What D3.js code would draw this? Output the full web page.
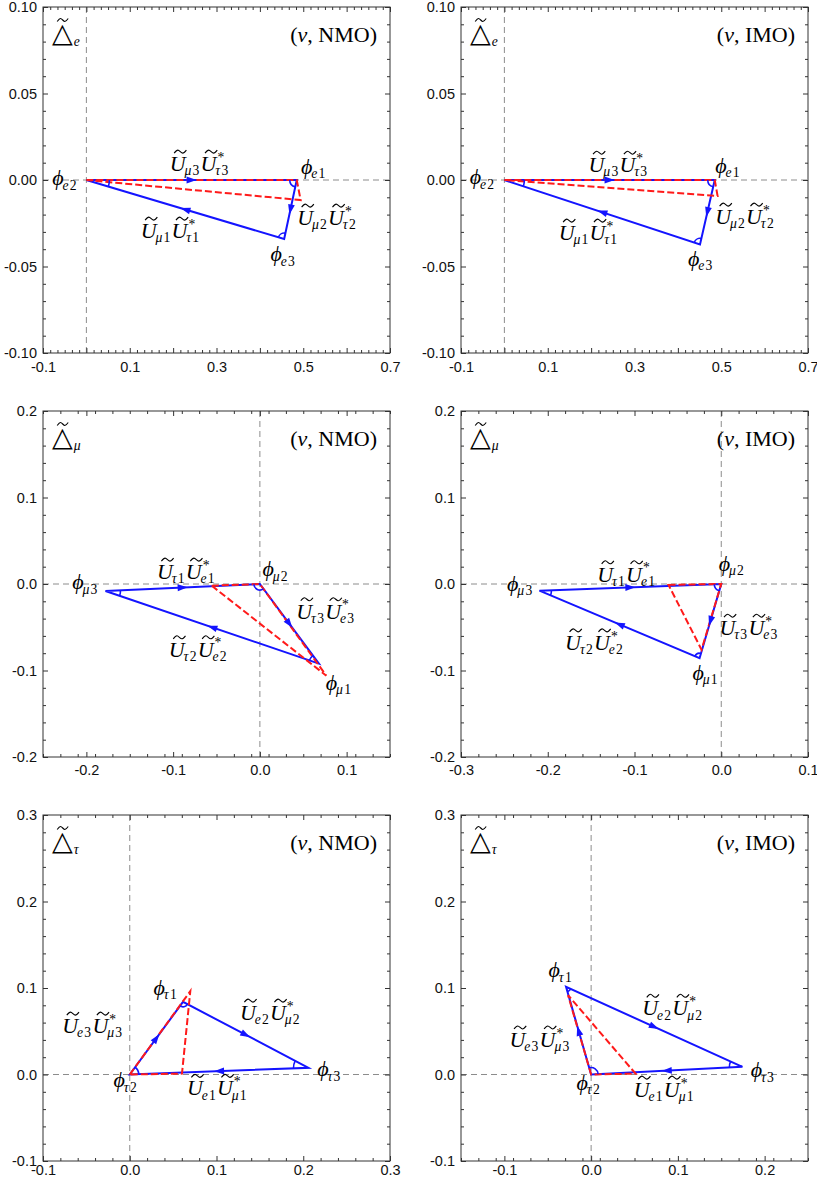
<!DOCTYPE html>
<html>
<head>
<meta charset="utf-8">
<script src="https://cdn.jsdelivr.net/npm/d3@7"></script>
<style>
  body { margin: 0; background: #fff; }
</style>
</head>
<body>
<div id="viz"></div>
<script>
  // ---- data (x = Re, y = Im) ----
  // blue: vertices of the unitarity triangle in arrow order; red: dashed comparison triangle
  var blueE_NMO = [[0, 0], [0.485, 0], [0.456, -0.0341]];
  var redE_NMO = [[0, 0], [0.485, 0], [0.494, -0.0116]];
  var blueE_IMO = [[0, 0], [0.485, 0], [0.451, -0.0372]];
  var redE_IMO = [[0, 0], [0.485, 0], [0.4915, -0.0092]];
  var blueMu_NMO = [[-0.178, -0.0081], [0, 0], [0.068, -0.092]];
  var redMu_NMO = [[-0.0555, -0.002], [0, 0], [0.0766, -0.106]];
  var blueMu_IMO = [[-0.2096, -0.0077], [0, 0], [-0.025, -0.0858]];
  var redMu_IMO = [[-0.0608, -0.001], [0, 0], [-0.0227, -0.076]];
  var blueTau_NMO = [[0, 0], [0.0614, 0.084], [0.206, 0.0077]];
  var redTau_NMO = [[0, 0], [0.0698, 0.0963], [0.0602, 0.001]];
  var blueTau_IMO = [[0, 0], [-0.0289, 0.1013], [0.1744, 0.0089]];
  var redTau_IMO = [[0, 0], [-0.0266, 0.0917], [0.0512, 0.001]];

  var flavours = ["e", "μ", "τ"];
  var orderings = ["NMO", "IMO"];

  // names of the blue vertices (same order as above) and of the edges v0->v1, v1->v2, v2->v0
  var vertexNamesE = ["e2", "e1", "e3"];
  var vertexNamesMu = ["μ3", "μ2", "μ1"];
  var vertexNamesTau = ["τ2", "τ1", "τ3"];
  var edgeSubsE = [["μ3", "τ3"], ["μ2", "τ2"], ["μ1", "τ1"]];
  var edgeSubsMu = [["τ1", "e1"], ["τ3", "e3"], ["τ2", "e2"]];
  var edgeSubsTau = [["e3", "μ3"], ["e2", "μ2"], ["e1", "μ1"]];

  // axes
  var xDomains = [[-0.1, 0.7], [-0.1, 0.7], [-0.25, 0.15], [-0.3, 0.1], [-0.1, 0.3], [-0.15, 0.25]];
  var yDomains = [[-0.1, 0.1], [-0.1, 0.1], [-0.2, 0.2], [-0.2, 0.2], [-0.1, 0.3], [-0.1, 0.3]];
  var xTickLabels = [[-0.1, 0.1, 0.3, 0.5, 0.7], [-0.1, 0.1, 0.3, 0.5, 0.7], [-0.2, -0.1, 0.0, 0.1],
                     [-0.3, -0.2, -0.1, 0.0, 0.1], [-0.1, 0.0, 0.1, 0.2, 0.3], [-0.1, 0.0, 0.1, 0.2]];
  var yTickLabels = [[-0.1, -0.05, 0, 0.05, 0.1], [-0.1, -0.05, 0, 0.05, 0.1], [-0.2, -0.1, 0.0, 0.1, 0.2],
                     [-0.2, -0.1, 0.0, 0.1, 0.2], [-0.1, 0.0, 0.1, 0.2, 0.3], [-0.1, 0.0, 0.1, 0.2, 0.3]];
  var xMajorStep = [0.1, 0.1, 0.1, 0.1, 0.1, 0.1];
  var xMinorStep = [0.1 / 6, 0.1 / 6, 0.02, 0.02, 0.02, 0.02];
  var yMajorStep = [0.05, 0.05, 0.1, 0.1, 0.1, 0.1];
  var yMinorStep = [0.01, 0.01, 0.02, 0.02, 0.02, 0.02];
  var yFormat = [".2f", ".2f", ".1f", ".1f", ".1f", ".1f"];

  // ---- layout ----
  var W = 347, H = 346;
  var colLeft = [43, 461];
  var rowTop = [7, 411, 815];
  var rowTickPad = [9, 8, 4];
  var blue = "#1414ff", red = "#ff1a1a";
  var serif = "'Liberation Serif', 'DejaVu Serif', serif";
  var mathSize = 22;

  // label anchors in data coords: [x, y, text-anchor]
  var vertexLabelPos = [
    [[-0.02, -0.003, "end"], [0.495, 0.0035, "start"], [0.454, -0.047, "middle"]],
    [[-0.021, -0.0025, "end"], [0.486, 0.004, "start"], [0.453, -0.0497, "middle"]],
    [[-0.186, -0.006, "end"], [0.003, 0.009, "start"], [0.076, -0.122, "start"]],
    [[-0.2165, -0.008, "end"], [-0.003, 0.015, "start"], [-0.018, -0.111, "middle"]],
    [[-0.0046, -0.015, "middle"], [0.0415, 0.092, "middle"], [0.216, -0.002, "start"]],
    [[-0.0027, -0.018, "middle"], [-0.035, 0.1125, "middle"], [0.184, -0.003, "start"]]
  ];
  var edgeLabelPos = [
    [[0.261, 0.0052, "middle"], [0.486, -0.026, "start"], [0.194, -0.0335, "middle"]],
    [[0.263, 0.0046, "middle"], [0.486, -0.0254, "start"], [0.194, -0.0347, "middle"]],
    [[-0.0847, 0.0058, "middle"], [0.042, -0.040, "start"], [-0.071, -0.084, "middle"]],
    [[-0.109, 0.0027, "middle"], [-0.002, -0.059, "start"], [-0.146, -0.076, "middle"]],
    [[-0.0075, 0.048, "end"], [0.127, 0.063, "start"], [0.101, -0.024, "middle"]],
    [[-0.0238, 0.032, "end"], [0.059, 0.0686, "start"], [0.0843, -0.026, "middle"]]
  ];
  // radius (px) of the angle arc at each blue vertex
  var arcRadius = [[23, 7, 6], [20, 7, 6], [15, 6, 10], [12, 7, 5], [9, 5, 15], [7, 5, 13]];

  var panels = [
    { blue: blueE_NMO, red: redE_NMO, names: vertexNamesE, edges: edgeSubsE, fl: 0, ord: 0 },
    { blue: blueE_IMO, red: redE_IMO, names: vertexNamesE, edges: edgeSubsE, fl: 0, ord: 1 },
    { blue: blueMu_NMO, red: redMu_NMO, names: vertexNamesMu, edges: edgeSubsMu, fl: 1, ord: 0 },
    { blue: blueMu_IMO, red: redMu_IMO, names: vertexNamesMu, edges: edgeSubsMu, fl: 1, ord: 1 },
    { blue: blueTau_NMO, red: redTau_NMO, names: vertexNamesTau, edges: edgeSubsTau, fl: 2, ord: 0 },
    { blue: blueTau_IMO, red: redTau_IMO, names: vertexNamesTau, edges: edgeSubsTau, fl: 2, ord: 1 }
  ];

  var svg = d3.select("#viz").append("svg").attr("width", 817).attr("height", 1179);

  var fix = function(s) { return s.replace("−", "-"); };

  var drawTilde = function(grp, x0, x1, ty) {
    var a = 1.5, w = x1 - x0;
    var pts = [[x0, ty + a], [x0 + 0.3 * w, ty - a], [x0 + 0.7 * w, ty + a], [x1, ty - a]];
    grp.append("path").attr("d", d3.line().curve(d3.curveMonotoneX)(pts))
      .attr("fill", "none").attr("stroke", "#000").attr("stroke-width", 1.1);
  };

  // sub/superscript: digits and * upright, letters italic
  var addScript = function(grp, x, y, str, fs) {
    var t = grp.append("text").attr("x", x).attr("y", y)
      .style("font-family", serif).style("font-size", fs + "px").style("letter-spacing", "1.2px");
    str.split("").forEach(function(ch) {
      t.append("tspan").style("font-style", /[0-9*]/.test(ch) ? "normal" : "italic").text(ch);
    });
    return t.node().getComputedTextLength();
  };

  var drawMath = function(g, px, py, tokens, anchor, fs) {
    var grp = g.append("g");
    var cx = 0;
    tokens.forEach(function(t) {
      var base = grp.append("text").attr("x", cx).attr("y", 0)
        .style("font-family", t.font || serif)
        .style("font-size", (t.size || fs) + "px")
        .style("font-style", t.upright ? "normal" : "italic")
        .text(t.b);
      var w = base.node().getComputedTextLength();
      if (t.tilde) {
        if (t.upright) {
          drawTilde(grp, cx + w * 0.25, cx + w * 0.78, -(t.tildeY || 0.9) * fs);
        } else {
          drawTilde(grp, cx + w * 0.28, cx + w * 1.05, -(t.tildeY || 0.88) * fs);
        }
      }
      cx += w;
      var kern = t.upright ? -1 : 0.05 * fs;
      var sw = 0;
      if (t.sup) {
        sw = Math.max(sw, addScript(grp, cx + 1, -0.42 * fs, t.sup, 0.62 * fs) + 1 + kern);
      }
      if (t.sub) {
        sw = Math.max(sw, addScript(grp, cx - kern, 0.2 * fs, t.sub, 0.62 * fs));
      }
      cx += sw - kern;
    });
    var shift = anchor === "end" ? -cx : anchor === "middle" ? -cx / 2 : 0;
    grp.attr("transform", "translate(" + (px + shift) + "," + py + ")");
  };

  var minorTicks = function(dom, step, majStep) {
    var out = [], v;
    var n = Math.round((dom[1] - dom[0]) / step);
    for (var k = 0; k <= n; k++) {
      v = dom[0] + k * step;
      var r = v / majStep;
      if (Math.abs(r - Math.round(r)) > 1e-6) out.push(v);
    }
    return out;
  };
  var majorTicks = function(dom, step) {
    var out = [];
    var k0 = Math.ceil(dom[0] / step - 1e-9), k1 = Math.floor(dom[1] / step + 1e-9);
    for (var k = k0; k <= k1; k++) out.push(k * step);
    return out;
  };

  var drawPanel = function(p, i) {
    var row = Math.floor(i / 2);
    var g = svg.append("g")
      .attr("transform", "translate(" + colLeft[i % 2] + "," + rowTop[row] + ")");
    var x = d3.scaleLinear().domain(xDomains[i]).range([0, W]);
    var y = d3.scaleLinear().domain(yDomains[i]).range([H, 0]);

    // dashed zero lines
    g.append("line").attr("x1", x(0)).attr("x2", x(0)).attr("y1", 0).attr("y2", H)
      .attr("stroke", "#8c8c8c").attr("stroke-width", 1).attr("stroke-dasharray", "6,4");
    g.append("line").attr("x1", 0).attr("x2", W).attr("y1", y(0)).attr("y2", y(0))
      .attr("stroke", "#8c8c8c").attr("stroke-width", 1).attr("stroke-dasharray", "6,4");

    // ticks (inward on all four sides)
    var xMaj = majorTicks(xDomains[i], xMajorStep[i]);
    var yMaj = majorTicks(yDomains[i], yMajorStep[i]);
    var xMin = minorTicks(xDomains[i], xMinorStep[i], xMajorStep[i]);
    var yMin = minorTicks(yDomains[i], yMinorStep[i], yMajorStep[i]);
    var xf = d3.format(".1f"), yf = d3.format(yFormat[i]);
    var xLab = xTickLabels[i], yLab = yTickLabels[i];
    var isLab = function(arr, v) {
      return arr.some(function(a) { return Math.abs(a - v) < 1e-9; });
    };

    var axes = [
      g.append("g").attr("transform", "translate(0," + H + ")")
        .call(d3.axisBottom(x).tickValues(xMaj).tickSize(-5).tickPadding(rowTickPad[row])
          .tickFormat(function(v) { return isLab(xLab, v) ? fix(xf(v)) : ""; })),
      g.append("g").attr("transform", "translate(0," + H + ")")
        .call(d3.axisBottom(x).tickValues(xMin).tickSize(-3).tickFormat("")),
      g.append("g").call(d3.axisTop(x).tickValues(xMaj).tickSize(-5).tickFormat("")),
      g.append("g").call(d3.axisTop(x).tickValues(xMin).tickSize(-3).tickFormat("")),
      g.append("g")
        .call(d3.axisLeft(y).tickValues(yMaj).tickSize(-5).tickPadding(6)
          .tickFormat(function(v) { return isLab(yLab, v) ? fix(yf(v)) : ""; })),
      g.append("g").call(d3.axisLeft(y).tickValues(yMin).tickSize(-3).tickFormat("")),
      g.append("g").attr("transform", "translate(" + W + ",0)")
        .call(d3.axisRight(y).tickValues(yMaj).tickSize(-5).tickFormat("")),
      g.append("g").attr("transform", "translate(" + W + ",0)")
        .call(d3.axisRight(y).tickValues(yMin).tickSize(-3).tickFormat(""))
    ];
    axes.forEach(function(a) {
      a.select(".domain").remove();
      a.selectAll("line").attr("stroke", "#333");
      a.selectAll("text").style("font-family", "'Liberation Sans', Arial, sans-serif")
        .style("font-size", "14.5px").attr("fill", "#111");
    });

    g.append("rect").attr("width", W).attr("height", H)
      .attr("fill", "none").attr("stroke", "#333").attr("stroke-width", 1);

    var line = d3.line().x(function(d) { return x(d[0]); }).y(function(d) { return y(d[1]); });

    // blue triangle
    g.append("path").attr("d", line(p.blue) + "Z")
      .attr("fill", "none").attr("stroke", blue).attr("stroke-width", 2).attr("stroke-linejoin", "miter");
    // red dashed triangle
    g.append("path").attr("d", line(p.red) + "Z")
      .attr("fill", "none").attr("stroke", red).attr("stroke-width", 2).attr("stroke-dasharray", "7,3");

    // arrowheads at the middle of each blue edge, and angle arcs
    var pts = p.blue.map(function(d) { return [x(d[0]), y(d[1])]; });
    pts.forEach(function(a, k) {
      var b = pts[(k + 1) % 3];
      var mx = (a[0] + b[0]) / 2, my = (a[1] + b[1]) / 2;
      var dx = b[0] - a[0], dy = b[1] - a[1], len = Math.sqrt(dx * dx + dy * dy);
      var ux = dx / len, uy = dy / len, L = 10, hw = 3.4;
      var tri = [[mx + ux * L / 2, my + uy * L / 2],
                 [mx - ux * L / 2 - uy * hw, my - uy * L / 2 + ux * hw],
                 [mx - ux * L / 2 + uy * hw, my - uy * L / 2 - ux * hw]];
      g.append("path").attr("d", "M" + tri.join("L") + "Z").attr("fill", blue).attr("stroke", "none");
    });
    pts.forEach(function(v, k) {
      var a = pts[(k + 1) % 3], b = pts[(k + 2) % 3], r = arcRadius[i][k];
      var a1 = Math.atan2(a[1] - v[1], a[0] - v[0]), a2 = Math.atan2(b[1] - v[1], b[0] - v[0]);
      var dl = a2 - a1;
      while (dl > Math.PI) dl -= 2 * Math.PI;
      while (dl <= -Math.PI) dl += 2 * Math.PI;
      var s = [v[0] + r * Math.cos(a1), v[1] + r * Math.sin(a1)];
      var e = [v[0] + r * Math.cos(a2), v[1] + r * Math.sin(a2)];
      g.append("path")
        .attr("d", "M" + s + "A" + r + "," + r + " 0 0 " + (dl > 0 ? 1 : 0) + " " + e)
        .attr("fill", "none").attr("stroke", blue).attr("stroke-width", 1.6);
    });

    // vertex labels
    p.names.forEach(function(nm, k) {
      var lp = vertexLabelPos[i][k];
      drawMath(g, x(lp[0]), y(lp[1]), [{ b: "ϕ", sub: nm }], lp[2], mathSize);
    });
    // edge labels
    p.edges.forEach(function(sb, k) {
      var lp = edgeLabelPos[i][k];
      drawMath(g, x(lp[0]), y(lp[1]),
        [{ b: "U", tilde: true, sub: sb[0] }, { b: "U", tilde: true, sub: sb[1], sup: "*" }],
        lp[2], mathSize);
    });

    // corner labels
    drawMath(g, 9, 35, [{ b: "△", font: "'DejaVu Sans'", upright: true, tilde: true, tildeY: 1.0, size: 27, sub: flavours[p.fl] }], "start", mathSize);
    var t = g.append("text").attr("x", W - 13).attr("y", 35).attr("text-anchor", "end")
      .style("font-family", serif).style("font-size", "22px");
    t.append("tspan").text("(");
    t.append("tspan").style("font-style", "italic").text("ν");
    t.append("tspan").text(", " + orderings[p.ord] + ")");
  };

  panels.forEach(drawPanel);
</script>
</body>
</html>
